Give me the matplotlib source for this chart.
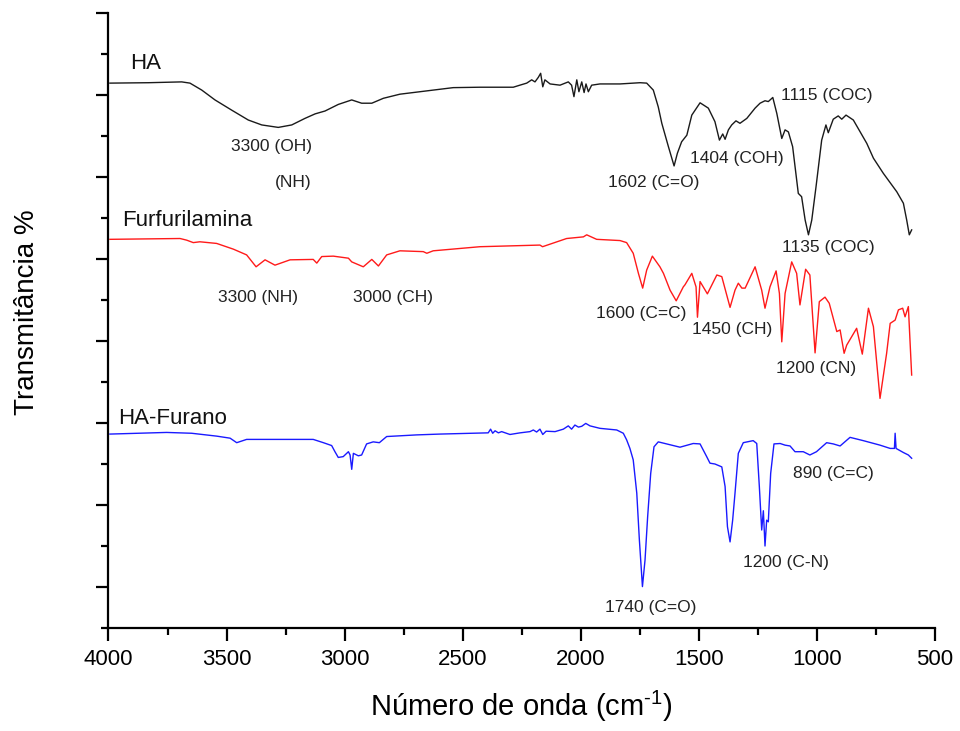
import matplotlib
matplotlib.use("Agg")
import matplotlib.pyplot as plt
from matplotlib.ticker import MultipleLocator, FixedLocator, NullFormatter

plt.rcParams['font.family'] = ['Liberation Sans', 'DejaVu Sans']
plt.rcParams['mathtext.fontset'] = 'custom'
plt.rcParams['mathtext.rm'] = 'Liberation Sans'
plt.rcParams['mathtext.it'] = 'Liberation Sans:italic'

# ---- FTIR spectra: wavenumber (cm-1) and transmittance (offset, arbitrary units) ----
ha_wn = [3994, 3831, 3690, 3655, 3605, 3549, 3478, 3408, 3351, 3281, 3224, 3168, 3125,
         3083, 3027, 2970, 2928, 2885, 2836, 2766, 2625, 2540, 2427, 2286, 2258, 2229,
         2208, 2194, 2180, 2170, 2161, 2152, 2130, 2088, 2053, 2039, 2029, 2017, 2008,
         1996, 1986, 1978, 1968, 1954, 1919, 1834, 1749, 1721, 1693, 1672, 1657, 1629,
         1605, 1591, 1573, 1551, 1530, 1495, 1460, 1432, 1413, 1399, 1389, 1375, 1361,
         1343, 1326, 1297, 1262, 1241, 1220, 1206, 1187, 1170, 1149, 1135, 1121, 1103,
         1079, 1065, 1050, 1036, 1022, 1004, 980, 962, 952, 931, 910, 895, 877, 846, 789,
         761, 719, 662, 634, 620, 609, 599]
ha_t = [132.9, 133.0, 133.2, 132.9, 131.2, 128.8, 126.3, 123.9, 122.7, 122.1, 122.7, 124.3,
        125.4, 126.1, 127.7, 128.8, 128.0, 128.0, 129.2, 130.2, 131.2, 131.8, 131.9, 131.9,
        132.4, 132.9, 133.7, 133.2, 134.3, 135.3, 132.0, 133.7, 132.7, 132.4, 133.2, 132.4,
        129.6, 133.7, 130.8, 133.2, 130.6, 132.7, 130.8, 132.4, 132.7, 132.7, 133.0, 132.9,
        131.2, 127.1, 123.1, 117.4, 112.7, 115.8, 118.6, 120.2, 125.1, 128.1, 126.8, 123.5,
        119.0, 120.5, 119.2, 121.5, 122.7, 123.7, 123.1, 124.3, 126.8, 128.0, 128.6, 128.4,
        129.4, 125.5, 119.4, 121.5, 121.0, 117.4, 106.0, 105.2, 99.5, 95.9, 99.5, 107.6,
        119.0, 122.7, 120.8, 124.1, 124.9, 124.1, 125.1, 123.9, 118.2, 114.6, 110.9, 106.4,
        103.6, 99.5, 95.9, 97.1]

furf_wn = [3994, 3697, 3669, 3641, 3613, 3542, 3471, 3415, 3375, 3337, 3295, 3231, 3133,
           3118, 3097, 3048, 2984, 2970, 2921, 2885, 2857, 2822, 2766, 2667, 2652, 2625,
           2427, 2173, 2162, 2060, 1989, 1975, 1933, 1834, 1806, 1778, 1756, 1738, 1721,
           1697, 1665, 1650, 1622, 1596, 1566, 1559, 1530, 1512, 1506, 1495, 1464, 1424,
           1403, 1368, 1347, 1333, 1318, 1304, 1262, 1234, 1220, 1199, 1173, 1159, 1149,
           1135, 1107, 1086, 1072, 1048, 1030, 1008, 990, 966, 948, 916, 902, 885, 874,
           832, 808, 782, 761, 733, 705, 690, 669, 655, 637, 627, 613, 599]
furf_t = [94.8, 95.0, 94.6, 94.0, 94.2, 93.8, 92.4, 91.0, 88.1, 89.8, 88.5, 89.8, 89.9,
          89.0, 90.6, 90.7, 90.2, 89.3, 88.1, 89.9, 88.3, 91.0, 92.0, 91.8, 91.4, 92.0,
          93.0, 93.4, 93.0, 95.0, 95.4, 95.9, 94.8, 94.5, 94.0, 91.4, 86.5, 82.9, 87.3,
          90.7, 88.1, 86.5, 82.4, 79.8, 83.2, 83.7, 86.5, 83.2, 75.8, 84.5, 81.5, 86.1,
          85.7, 78.2, 82.4, 84.1, 82.9, 82.9, 88.1, 82.4, 78.0, 83.2, 87.1, 81.6, 69.8,
          81.6, 89.3, 86.5, 78.8, 87.5, 86.1, 67.1, 79.6, 80.7, 79.2, 72.3, 72.7, 67.0, 69.0,
          73.1, 66.8, 78.0, 73.5, 56.0, 67.0, 74.3, 75.1, 77.6, 78.0, 75.9, 78.4, 61.7]

hafur_wn = [3994, 3754, 3648, 3542, 3485, 3457, 3415, 3189, 3133, 3090, 3055, 3041, 3027,
            3006, 2984, 2977, 2970, 2963, 2942, 2928, 2907, 2879, 2853, 2822, 2695, 2597,
            2392, 2382, 2373, 2363, 2349, 2335, 2300, 2257, 2215, 2201, 2187, 2173, 2161,
            2147, 2109, 2074, 2053, 2039, 2025, 2010, 1996, 1979, 1961, 1919, 1848, 1820,
            1806, 1792, 1778, 1763, 1752, 1739, 1728, 1717, 1704, 1690, 1672, 1580, 1524,
            1495, 1467, 1453, 1432, 1403, 1389, 1379, 1368, 1357, 1347, 1333, 1312, 1270,
            1255, 1244, 1234, 1227, 1220, 1213, 1206, 1196, 1182, 1156, 1135, 1114, 1093,
            1058, 1030, 1002, 959, 931, 902, 860, 804, 733, 690, 672, 669, 665, 634, 613, 599]
hafur_t = [47.3, 47.7, 47.5, 46.8, 46.3, 45.2, 46.0, 46.0, 46.0, 45.2, 44.5, 43.0, 41.6,
           41.8, 43.0, 42.2, 38.7, 42.6, 42.0, 42.2, 44.9, 45.4, 45.2, 46.7, 47.1, 47.3,
           47.6, 48.5, 47.5, 48.1, 47.6, 47.9, 47.2, 47.6, 47.9, 48.3, 47.8, 48.5, 47.2,
           48.0, 47.9, 48.5, 49.3, 48.5, 49.5, 49.0, 49.2, 49.9, 49.3, 48.7, 48.3, 47.5,
           45.9, 43.8, 41.0, 32.9, 21.5, 10.1, 16.6, 27.1, 37.7, 44.2, 45.4, 44.1, 45.0,
           44.9, 41.8, 40.2, 40.0, 39.3, 34.5, 24.7, 21.0, 26.3, 32.9, 42.6, 45.2, 45.7,
           45.0, 34.5, 23.9, 28.6, 20.0, 26.3, 25.9, 37.7, 44.9, 45.0, 44.6, 44.4, 43.0,
           43.0, 42.2, 43.0, 45.2, 44.9, 44.4, 46.5, 45.7, 44.6, 43.8, 43.8, 47.5, 43.8,
           42.8, 42.2, 41.4]

# ---- sample names and band assignments ----
series_names = ["HA", "Furfurilamina", "HA-Furano"]
series_colors = ["#1a1a1a", "#ff1a1a", "#1a1aff"]
name_pos = [(3909, 137.8), (3944, 99.3), (3960, 51.1)]

band_labels = ["3300 (OH)", "(NH)", "1602 (C=O)", "1404 (COH)", "1115 (COC)", "1135 (COC)",
               "3300 (NH)", "3000 (CH)", "1600 (C=C)", "1450 (CH)", "1200 (CN)",
               "890 (C=C)", "1200 (C-N)", "1740 (C=O)"]
band_pos = [(3309, 117.5), (3217, 108.7), (1693, 108.6), (1338, 114.6), (960, 129.9),
            (953, 92.8), (3368, 80.6), (2794, 80.6), (1744, 76.6), (1358, 72.7),
            (1005, 63.4), (931, 37.7), (1132, 16.0), (1703, 4.9)]

x_major = [4000, 3500, 3000, 2500, 2000, 1500, 1000, 500]

fig = plt.figure(figsize=(9.6, 7.31), dpi=100)
ax = fig.add_axes([0.113, 0.1409, 0.861, 0.8413])

for wn, t, c in zip([ha_wn, furf_wn, hafur_wn], [ha_t, furf_t, hafur_t], series_colors):
    ax.plot(wn, t, color=c, lw=1.0, solid_joinstyle='round')

for name, (x, y) in zip(series_names, name_pos):
    ax.text(x, y, name, ha='left', va='center', fontsize=16, color='#111111')

for lab, (x, y) in zip(band_labels, band_pos):
    ax.text(x, y, lab, ha='center', va='center', fontsize=12.5, color='#222222')

ax.set_xlim(4000, 500)
ax.set_ylim(0, 150)
ax.xaxis.set_major_locator(FixedLocator(x_major))
ax.xaxis.set_minor_locator(MultipleLocator(250))
ax.yaxis.set_major_locator(FixedLocator(list(range(10, 151, 20))))
ax.yaxis.set_minor_locator(FixedLocator(list(range(0, 141, 20))))
ax.yaxis.set_major_formatter(NullFormatter())

for side in ('top', 'right'):
    ax.spines[side].set_visible(False)
for side in ('left', 'bottom'):
    ax.spines[side].set_linewidth(1.6)

ax.tick_params(axis='both', which='major', direction='out', length=9, width=1.6,
               labelsize=16, pad=6)
ax.tick_params(axis='both', which='minor', direction='out', length=5, width=1.6)

ax.set_xlabel(r"Número de onda (cm$^{\text{-1}}$)", fontsize=21, labelpad=14)
ax.set_ylabel("Transmitância %", fontsize=20)
ax.yaxis.set_label_coords(-0.0986, 0.514)
ax.yaxis.label.set_verticalalignment('center')

fig.savefig("out.png", dpi=100)
